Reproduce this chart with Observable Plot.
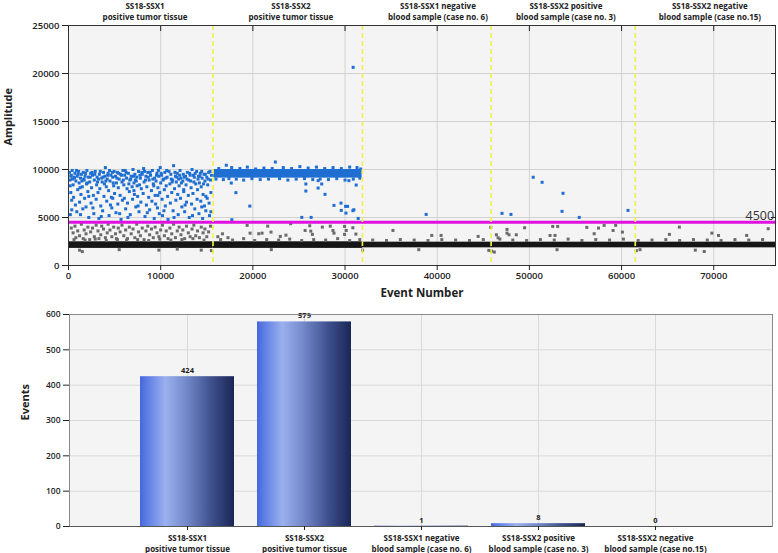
<!DOCTYPE html>
<html><head><meta charset="utf-8">
<script src="https://cdn.jsdelivr.net/npm/d3@7"></script>
<script src="https://cdn.jsdelivr.net/npm/@observablehq/plot@0.6"></script>
<style>
body{margin:0;background:#fff;}
#c{width:778px}
#c svg{display:block}
</style></head><body><div id="c"></div><script>
// ---------- top chart data ----------
const xTicks = [0,10000,20000,30000,40000,50000,60000,70000];
const yTicks = [0,5000,10000,15000,20000,25000];
const xMax = 76700, yMax = 25000;
const wellBounds = [0, 15680, 31890, 45850, 61490, 76700];
const dividers = [15680, 31890, 45850, 61490];
const wellLabels = ["SS18-SSX1\npositive tumor tissue","SS18-SSX2\npositive tumor tissue","SS18-SSX1 negative\nblood sample (case no. 6)","SS18-SSX2 positive\nblood sample (case no. 3)","SS18-SSX2 negative\nblood sample (case no.15)"];
const wellLabelX = [8300, 24130, 40080, 53960, 69580];
const bandLow = [1780,1780,1840,1840,1840];
const bandHigh = [2470,2470,2430,2430,2430];
const threshold = 4500;
const thresholdLabelX = 75000;
const cluster2Low = 9100, cluster2High = 10000;

const blueWell1 = [
[100,9700],[150,8900],[200,5300],[250,7600],[300,9400],[350,6800],[400,9900],[500,8400],[550,7100],[600,9200],[700,9600],[750,6300],[800,8800],[900,5600],[950,9300],[1000,7900],[1100,9800],[1150,8600],[1200,6600],[1300,9100],[1350,7400],[1400,9500],[1500,8200],[1550,5900],[1600,9700],[1700,8900],[1750,7000],[1800,9300],[1900,6100],[1950,8500],
[2000,9900],[2100,7700],[2150,9200],[2200,5000],[2300,8700],[2400,9600],[2450,6500],[2500,8100],[2600,9400],[2700,7300],[2750,5400],[2800,8900],[2900,9800],[3000,6900],[3050,8400],[3100,9200],[3200,7600],[3300,4900],[3350,9500],[3400,8000],[3500,6200],[3600,9100],[3650,8700],[3700,5700],[3800,9700],[3850,7200],[3900,8500],[3950,9300],
[4000,10200],[4100,8200],[4150,6700],[4200,9000],[4300,9600],[4350,7800],[4400,5200],[4500,8800],[4600,9400],[4650,7100],[4700,6000],[4800,9200],[4900,8300],[4950,9800],[5000,7500],[5100,9300],[5150,5500],[5200,8600],[5300,9700],[5350,6400],[5400,8100],[5500,9000],[5600,7300],[5650,9500],[5700,4800],[5800,8700],[5850,6800],[5900,9900],
[6000,8400],[6050,7000],[6100,9400],[6200,5900],[6300,9100],[6350,8000],[6400,6500],[6500,9600],[6600,7700],[6650,8900],[6700,5300],[6800,9300],[6900,8200],[6950,6900],[7000,10000],[7100,8600],[7150,7400],[7200,9500],[7300,6100],[7350,8800],[7400,9200],[7500,7200],[7600,9800],[7650,5600],[7700,8400],[7800,9100],[7850,6600],[7900,8000],
[8000,9500],[8100,7500],[8150,10100],[8200,8700],[8300,5100],[8400,9300],[8450,6300],[8500,8200],[8600,9700],[8700,7100],[8750,8900],[8800,5800],[8900,9400],[9000,7800],[9050,6700],[9100,9900],[9200,8500],[9300,4900],[9350,9100],[9400,7300],[9500,8800],[9600,9600],[9650,6000],[9700,8100],[9800,9300],[9850,5400],[9900,7600],[9950,10200],
[10000,8600],[10100,9400],[10150,6900],[10200,5200],[10300,9000],[10400,7900],[10450,9700],[10500,6200],[10600,8300],[10700,9200],[10750,7200],[10800,4800],[10900,9800],[11000,8500],[11050,6500],[11100,9500],[11200,7600],[11300,8900],[11350,5700],[11400,10400],[11500,8000],[11600,9300],[11650,6800],[11700,8700],[11800,9600],[11850,7400],[11900,5300],[11950,9000],
[12000,8300],[12100,9900],[12150,7000],[12200,9100],[12300,6100],[12400,8800],[12450,9500],[12500,7700],[12600,5600],[12700,9300],[12750,8400],[12800,6600],[12900,9700],[13000,7300],[13050,8900],[13100,5000],[13200,9400],[13300,8100],[13350,6400],[13400,10000],[13500,7500],[13600,8700],[13650,9200],[13700,5900],[13800,8500],[13900,9800],[13950,6900],
[14000,7900],[14100,9300],[14150,5400],[14200,8600],[14300,9600],[14350,6700],[14400,8200],[14500,9100],[14550,4900],[14600,7400],[14700,9500],[14750,6200],[14800,8800],[14900,5700],[15000,9200],[15050,7000],[15100,8400],[15200,9700],[15250,6500],[15300,5200],[15400,8900],[15450,7600],[15500,9400],
[250,9300],[650,9100],[1050,9500],[1450,8800],[1850,9600],[2350,9200],[2850,9500],[3250,9000],[3750,9200],[4250,9400],[4750,9700],[5250,9100],[5750,9400],[6250,9700],[6750,9000],[7250,8900],[7750,9400],[8250,9800],[8650,9200],[9150,9000],[9550,9400],[10050,9600],[10550,9100],[11150,9000],[11550,9700],[12050,9400],[12550,9200],[13150,9600],[13550,9400],[14050,9000],[14450,9800],[14850,9500],[15150,9000],
[180,8300],[420,9000],[870,9900],[1250,8100],[1650,9000],[2050,8600],[2550,9700],[3150,8700],[3450,9800],[4050,8800],[4450,9900],[4850,8600],[5450,9600],[5950,8900],[6150,9900],[6550,8500],[7050,9300],[7450,8300],[7950,9700],[8350,8900],[8850,9700],[9250,8300],[9750,9900],[10250,8900],[10650,9900],[11250,8700],[11750,9200],[12250,8600],[12850,9000],[13250,8800],[13750,9600],[14250,9300],[14650,8500],[15350,9800],
[350,5800],[1300,5300],[2650,6000],[3550,5100],[4550,6300],[5550,5400],[6450,5000],[7550,6200],[8550,5500],[9450,6400],[10350,5700],[11450,5000],[12650,6300],[13450,5200],[14450,6100],[15450,5600],[2200,7200],[4800,7000],[7100,7800],[9700,7300],[12500,7900],[14900,7200]
];
const blueWell2Edge = [
[16000,9000],[16300,10100],[16800,8950],[17120,10440],[17400,9050],[17700,10200],[18200,9000],[18600,10100],[19000,8900],[19400,10250],[19900,9050],[20300,10050],[20800,8950],[21200,10150],[21700,9000],[22100,10100],[22440,10780],[22900,9050],[23300,10200],[23800,8900],[24200,10100],[24700,9000],[25100,10300],[25600,9050],[26000,10150],[26500,8950],[26900,10250],[27300,9000],[27800,10100],[28200,8950],[28700,10200],[29100,9050],[29600,10100],[30000,8900],[30500,10250],[30900,9000],[31300,10200],[31600,9100],[31700,10050]
];
const blueSparse = [
[17660,8590],[18160,7590],[19670,6190],[17720,4770],[25750,8490],[25750,7760],[25310,5010],[26320,5010],[27080,8840],[27470,8490],[27080,8070],[27830,7410],[28800,6260],[29560,6500],[30060,6160],[30280,6160],[29590,5740],[30100,5460],[30850,5710],[30960,5810],[30420,8840],[31210,8380],[31430,4900],[30880,20640],
[38800,5320],[47030,5430],[48000,5320],[50410,9190],[51380,8670],[53650,7520],[53540,5640],[55410,5010],[60700,5740]
];
const grayRain = [
[300,3900],[500,3400],[700,4100],[800,2900],[1000,3600],[1200,3100],[1400,4300],[1600,2800],[1700,3700],[1900,3300],[2100,4000],[2300,2700],[2400,3500],[2600,3900],[2800,3000],[3000,4200],[3200,3600],[3300,2800],[3500,3200],[3600,4100],[3800,3800],[4000,2900],[4200,3400],[4300,4300],[4500,3700],[4700,3000],[4900,4000],[5100,3300],[5300,2700],[5400,3900],[5600,3500],[5800,4200],[6000,3100],[6200,3700],[6400,2800],[6600,4000],[6800,3300],[7000,3800],[7200,2900],[7400,4300],[7600,3500],[7800,3100],[8000,3900],[8200,2700],[8400,3600],[8600,4100],[8800,3200],[9000,3800],[9200,2900],[9400,4000],[9600,3400],[9800,3000],[10000,3700],[10200,4200],[10400,3100],[10600,3600],[10800,2800],[11000,3900],[11200,3300],[11400,4300],[11600,2900],[11800,3600],[12000,4000],[12200,3200],[12400,3700],[12600,2800],[12800,4100],[13000,3400],[13200,3000],[13400,3800],[13600,4200],[13800,3100],[14000,3600],[14200,2900],[14400,4000],[14600,3400],[14800,3800],[15000,3000],[15200,3500],[15400,4100],
[1500,1450],[14400,1600],[11800,1700],
[16200,3000],[16700,3300],[17300,2900],[19380,4180],[19700,3370],[20640,3310],[21000,3370],[21610,4100],[21970,3480],[22980,3030],[23590,3160],[24100,4350],[25670,3650],[26170,4140],[26280,3580],[26460,3240],[27540,4000],[28400,4100],[28800,3370],[28690,3650],[29950,4070],[30130,3650],[29950,3240],[30850,3930],[31180,3270],
[35200,3650],[39410,3130],[40420,3130],[44440,3030],[45810,3970],[46420,3200],[46600,2890],[47570,3760],[47570,3370],[47790,3200],[48580,3200],[49480,3930],[52530,4070],[53070,4070],[52240,3130],[52780,3130],[56230,3970],[57500,3900],[58110,4180],[59360,4180],[57030,3310],[59080,3650],[60090,3480],[65190,3240],[66270,4000],[69800,3370],[70520,3130],[73570,3130],[75910,3830],[68970,1460],[45600,1570]
];
const grayFringe = [
[600,2700],[1800,2650],[2900,2750],[4100,2600],[5200,2800],[6300,2650],[7500,2700],[8700,2600],[9900,2750],[11100,2650],[12300,2700],[13500,2800],[14700,2650],[16500,2700],[17800,2650],[19000,2800],[20200,2600],[21500,2700],[22800,2650],[24000,2750],[25300,2600],[26600,2700],[27900,2650],[29200,2800],[30500,2600],[31600,2700],[33000,2650],[34500,2600],[36000,2700],[37500,2650],[39000,2600],[40500,2700],[42000,2650],[43500,2600],[45000,2700],[46800,2750],[48200,2650],[49700,2600],[51200,2700],[52700,2650],[54200,2750],[55700,2600],[57200,2700],[58700,2650],[60200,2750],[61800,2600],[63300,2650],[64800,2700],[66300,2600],[67800,2700],[69300,2650],[70800,2600],[72300,2700],[73800,2650],[75300,2700],
[1200,1600],[5500,1650],[9800,1600],[15500,1550],[22000,1650],[31900,1600],[38000,1650],[45900,1500],[46200,1400],[53000,1650],[61600,1550],[62000,1650],[68000,1600]
];

// ---------- bottom chart data ----------
const categories = ["SS18-SSX1\npositive tumor tissue","SS18-SSX2\npositive tumor tissue","SS18-SSX1 negative\nblood sample (case no. 6)","SS18-SSX2 positive\nblood sample (case no. 3)","SS18-SSX2 negative\nblood sample (case no.15)"];
const events = [424, 579, 1, 8, 0];
const eventTicks = [0,100,200,300,400,500,600];

const FONT = "'Open Sans', 'DejaVu Sans', sans-serif";
const wells = d3.range(5);
const sq = {symbol: "square", r: 1.7, stroke: "none"};
const plain = d3.format("d");

const topChart = Plot.plot({
  width: 778, height: 300,
  marginLeft: 68, marginRight: 3, marginTop: 25, marginBottom: 35,
  style: {fontFamily: FONT, fontSize: "9.5px", color: "#222", background: "#fff", overflow: "visible"},
  x: {domain: [0, xMax], label: null},
  y: {domain: [0, yMax], label: null},
  marks: [
    Plot.frame({fill: "#f4f4f4", stroke: "none"}),
    Plot.gridX(xTicks, {stroke: "#d2d2d2", strokeOpacity: 1}),
    Plot.gridY(yTicks, {stroke: "#d2d2d2", strokeOpacity: 1}),
    Plot.rect(wells, {x1: i => wellBounds[i], x2: i => wellBounds[i+1], y1: i => bandLow[i], y2: i => bandHigh[i], fill: "#161616"}),
    Plot.dot(grayFringe, {x: d => d[0], y: d => d[1], fill: "#6b6b6b", ...sq}),
    Plot.dot(grayRain, {x: d => d[0], y: d => d[1], fill: "#6b6b6b", ...sq}),
    Plot.rect([0], {x1: () => wellBounds[1] + 80, x2: () => wellBounds[2] - 40, y1: () => cluster2Low, y2: () => cluster2High, fill: "#1f6fd3"}),
    Plot.dot(blueWell2Edge, {x: d => d[0], y: d => d[1], fill: "#1f6fd3", ...sq}),
    Plot.dot(blueWell1, {x: d => d[0], y: d => d[1], fill: "#1f6fd3", ...sq}),
    Plot.dot(blueSparse, {x: d => d[0], y: d => d[1], fill: "#1f6fd3", ...sq}),
    Plot.ruleY([threshold], {stroke: "#e010e0", strokeWidth: 3}),
    Plot.ruleX(dividers, {stroke: "#f2ef4a", strokeWidth: 1.6, strokeDasharray: "5,3"}),
    Plot.text([threshold], {x: thresholdLabelX, y: d => d, text: d => String(d), lineAnchor: "bottom", dy: -2, fontSize: 12.5, fill: "#333"}),
    Plot.frame({stroke: "#333"}),
    Plot.axisX(xTicks, {anchor: "bottom", tickSize: 5, tickPadding: 2, tickFormat: plain, fontWeight: 600, fill: "#222"}),
    Plot.axisX(xTicks, {anchor: "top", tickSize: -5, tickFormat: () => "", label: null}),
    Plot.axisY(yTicks, {anchor: "left", tickSize: 6, tickPadding: 3, tickFormat: plain, fontWeight: 600, fill: "#222"}),
    Plot.axisY(yTicks, {anchor: "right", tickSize: -5, tickFormat: () => "", label: null}),
    Plot.text(wellLabels, {x: (d, i) => wellLabelX[i], frameAnchor: "top", lineAnchor: "top", dy: -24, fontSize: 8, fontWeight: 700, lineHeight: 1.35, fill: "#222"}),
    Plot.text(["Amplitude"], {frameAnchor: "left", dx: -60, rotate: -90, fontSize: 11, fontWeight: 700, fill: "#222"}),
    Plot.text(["Event Number"], {frameAnchor: "bottom", lineAnchor: "middle", dy: 28, fontSize: 11.5, fontWeight: 700, fill: "#222"})
  ]
});

const bottomChart = Plot.plot({
  width: 778, height: 253,
  marginLeft: 69, marginRight: 6, marginTop: 14, marginBottom: 27,
  style: {fontFamily: FONT, fontSize: "8.5px", color: "#222", background: "#fff", overflow: "visible"},
  x: {domain: categories, paddingInner: 0.2, paddingOuter: 0.6, label: null},
  y: {domain: [0, 600], label: null},
  marks: [
    Plot.frame({fill: "#f4f4f4", stroke: "none"}),
    Plot.gridY(eventTicks, {stroke: "#d9d9d9", strokeOpacity: 1}),
    Plot.gridX(categories, {stroke: "#d9d9d9", strokeOpacity: 1}),
    Plot.barY(categories, {x: d => d, y: (d, i) => events[i], fill: "url(#barGrad)"}),
    Plot.text(categories, {x: d => d, y: (d, i) => events[i], text: (d, i) => String(events[i]), dy: -6, fontSize: 7.5, fontWeight: 700, fill: "#222"}),
    Plot.frame({stroke: "#8a8a8a"}),
    Plot.ruleY([0], {stroke: "#555"}),
    Plot.axisY(eventTicks, {anchor: "left", tickSize: 6, tickPadding: 3, fontWeight: 600, fontSize: 8.5, fill: "#222"}),
    Plot.axisX({anchor: "bottom", tickSize: 4, tickPadding: 3, fontSize: 8, fontWeight: 700, lineHeight: 1.35, fill: "#222"}),
    Plot.text(["Events"], {frameAnchor: "left", dx: -44, rotate: -90, fontSize: 11, fontWeight: 700, fill: "#222"})
  ]
});

const ns = "http://www.w3.org/2000/svg";
const defs = document.createElementNS(ns, "defs");
defs.innerHTML = `<linearGradient id="barGrad" x1="0" y1="0" x2="1" y2="0">
<stop offset="0" stop-color="#4567dc"/>
<stop offset="0.08" stop-color="#5f7fe4"/>
<stop offset="0.27" stop-color="#9bb0ee"/>
<stop offset="0.5" stop-color="#7287c8"/>
<stop offset="0.75" stop-color="#40518f"/>
<stop offset="1" stop-color="#1a2656"/>
</linearGradient>`;
bottomChart.insertBefore(defs, bottomChart.firstChild);

document.getElementById("c").append(topChart, bottomChart);
</script></body></html>
